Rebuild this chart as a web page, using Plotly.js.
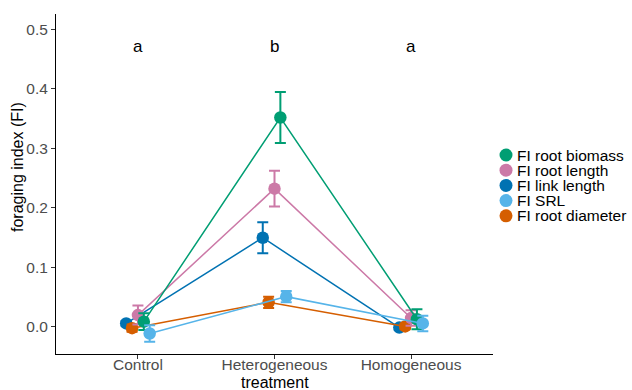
<!DOCTYPE html>
<html>
<head>
<meta charset="utf-8">
<script src="https://cdn.plot.ly/plotly-3.0.1.min.js"></script>
<style>html,body{margin:0;padding:0;background:#fff;}#chart{width:632px;height:390px;}</style>
</head>
<body>
<div id="chart"></div>
<script>
const categories = ['Control', 'Heterogeneous', 'Homogeneous'];
const letters = ['a', 'b', 'a'];
const seriesNames = ['FI root biomass', 'FI root length', 'FI link length', 'FI SRL', 'FI root diameter'];
const seriesColors = ['#009E73', '#CC79A7', '#0072B2', '#56B4E9', '#D55E00'];
const rootBiomass = [0.009, 0.352, 0.013];
const rootBiomassSE = [0.014, 0.043, 0.017];
const rootLength = [0.020, 0.2325, 0.015];
const rootLengthSE = [0.016, 0.030, 0.013];
const linkLength = [0.006, 0.150, -0.001];
const linkLengthSE = [0.004, 0.026, 0.004];
const srl = [-0.011, 0.051, 0.006];
const srlSE = [0.014, 0.0095, 0.013];
const rootDiameter = [-0.002, 0.0415, 0.001];
const rootDiameterSE = [0.006, 0.0095, 0.005];

const values = [rootBiomass, rootLength, linkLength, srl, rootDiameter];
const errors = [rootBiomassSE, rootLengthSE, linkLengthSE, srlSE, rootDiameterSE];
// dodge slot for each series, and drawing order
const dodgeSlot = [1, 0, -2, 2, -1];
const drawOrder = [2, 4, 1, 0, 3];
const dodgeStep = 0.043;
const font = 'Liberation Sans, Arial, sans-serif';

const traces = drawOrder.map(i => ({
  type: 'scatter',
  mode: 'lines+markers',
  name: seriesNames[i],
  x: categories.map((c, k) => k + 1 + dodgeSlot[i] * dodgeStep),
  y: values[i],
  line: {color: seriesColors[i], width: 1.5},
  marker: {color: seriesColors[i], size: 12.5},
  error_y: {type: 'data', array: errors[i], visible: true, color: seriesColors[i], thickness: 2, width: 5.5},
  showlegend: false,
  hoverinfo: 'skip'
}));

const annotations = letters.map((t, k) => ({
  x: k + 1, y: 0.472, xref: 'x', yref: 'y', text: t, showarrow: false,
  font: {family: font, size: 17, color: '#000'}
}));
const shapes = [];
const plotL = 56, plotW = 437, plotB = 354, plotH = 340;
seriesNames.forEach((n, i) => {
  const py = 155 + i * 15.2;
  const yp = (plotB - py) / plotH;
  const xp = (506 - plotL) / plotW;
  shapes.push({type: 'circle', xref: 'paper', yref: 'paper', xsizemode: 'pixel', ysizemode: 'pixel',
    xanchor: xp, yanchor: yp, x0: -6.5, x1: 6.5, y0: -6.5, y1: 6.5,
    fillcolor: seriesColors[i], line: {width: 0}});
  annotations.push({xref: 'paper', yref: 'paper', x: (515 - plotL) / plotW, y: yp, xanchor: 'left', yanchor: 'middle',
    text: n, showarrow: false, font: {family: font, size: 15.5, color: '#000'}});
});

// axis titles as annotations for exact placement
annotations.push({xref: 'paper', yref: 'paper', x: 0.5, y: (plotB - 382) / plotH, xanchor: 'center', yanchor: 'middle',
  text: 'treatment', showarrow: false, font: {family: font, size: 16, color: '#000'}});
annotations.push({xref: 'paper', yref: 'paper', x: (18 - plotL) / plotW, y: (plotB - 167) / plotH, xanchor: 'center', yanchor: 'middle',
  textangle: -90, text: 'foraging index (FI)', showarrow: false, font: {family: font, size: 16, color: '#000'}});

const layout = {
  width: 632, height: 390,
  margin: {l: 56, r: 139, t: 14, b: 36},
  paper_bgcolor: '#fff', plot_bgcolor: '#fff',
  font: {family: font},
  showlegend: false,
  xaxis: {
    range: [0.4, 3.6], tickvals: [1, 2, 3], ticktext: categories,
    showgrid: false, zeroline: false, showline: true, linecolor: '#000', linewidth: 1,
    ticks: 'outside', ticklen: 4, tickcolor: '#333', tickwidth: 1,
    tickfont: {family: font, size: 15.5, color: '#4D4D4D'},
    ticklabelstandoff: -8,
    automargin: false
  },
  yaxis: {
    range: [-0.0454, 0.526], tickvals: [0, 0.1, 0.2, 0.3, 0.4, 0.5],
    ticktext: ['0.0', '0.1', '0.2', '0.3', '0.4', '0.5'],
    showgrid: false, zeroline: false, showline: true, linecolor: '#000', linewidth: 1,
    ticks: 'outside', ticklen: 4, tickcolor: '#333', tickwidth: 1,
    tickfont: {family: font, size: 15.5, color: '#4D4D4D'},
    automargin: false
  },
  annotations: annotations,
  shapes: shapes
};
Plotly.newPlot('chart', traces, layout, {displayModeBar: false, staticPlot: true});
</script>
</body>
</html>
